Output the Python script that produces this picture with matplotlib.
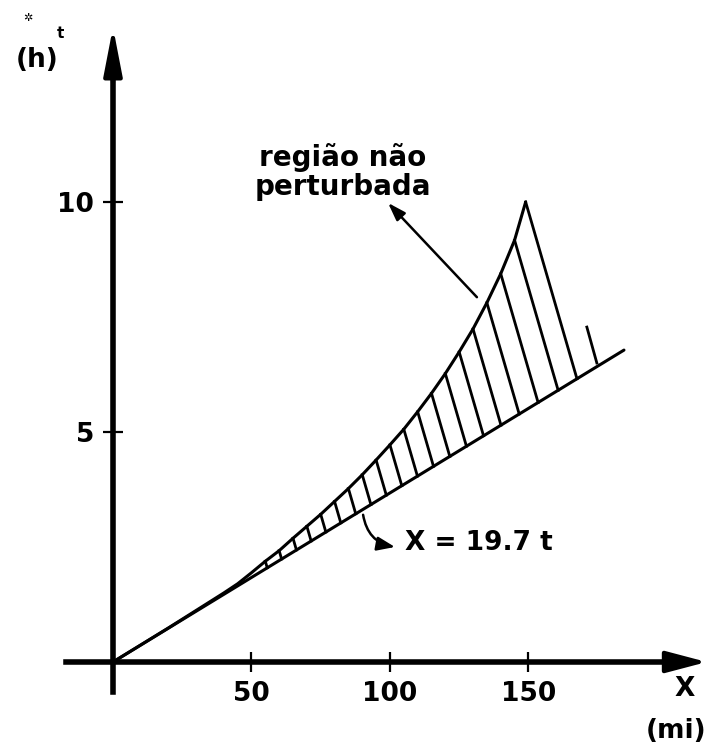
import numpy as np
import matplotlib.pyplot as plt

# upper boundary of the disturbed region (distance in mi, time in h)
x_upper = [0, 20, 40, 45, 50, 55, 60, 65, 70, 75, 80, 85, 90, 95, 100,
           105, 110, 115, 120, 125, 130, 135, 140, 145, 149]
t_upper = [0, 0.74, 1.50, 1.70, 1.94, 2.19, 2.42, 2.69, 2.95, 3.21, 3.49,
           3.77, 4.07, 4.39, 4.72, 5.06, 5.44, 5.84, 6.27, 6.74, 7.24,
           7.81, 8.44, 9.17, 10.0]

# wave front X = 19.7 t as drawn
x_lower = [0, 184.5]
t_lower = [0, 6.78]

# stray hatch past the closing edge
x_extra = [171.1, 174.7]
t_extra = [7.28, 6.50]

x_ticks = [50, 100, 150]
x_ticklabels = ['50', '100', '150']
t_ticks = [5, 10]
t_ticklabels = ['5', '10']

# hatch lines lean to the right: mi gained per hour dropped
lean = 4.82
hatch_from = 55

fig = plt.figure(figsize=(7.09, 7.5), dpi=100)
ax = fig.add_axes([0, 0, 1, 1])
ax.set_xlim(-40.8, 215.2)
ax.set_ylim(-1.913, 14.39)

for side in ['top', 'right']:
    ax.spines[side].set_visible(False)
ax.spines['left'].set_position(('data', 0))
ax.spines['bottom'].set_position(('data', 0))
ax.spines['left'].set_linewidth(4)
ax.spines['bottom'].set_linewidth(4)
ax.spines['left'].set_bounds(-0.65, 13.0)
ax.spines['bottom'].set_bounds(-17, 205)

ax.set_xticks(x_ticks)
ax.set_xticklabels(x_ticklabels)
ax.set_yticks(t_ticks)
ax.set_yticklabels(t_ticklabels)
ax.tick_params(direction='inout', length=15, width=1.6, labelsize=19, pad=6)
for lab in ax.get_xticklabels() + ax.get_yticklabels():
    lab.set_fontweight('bold')

# axis arrowheads
ax.annotate('', xy=(0, 13.8), xytext=(0, 12.6),
            arrowprops=dict(arrowstyle='-|>,head_length=1.45,head_width=0.28',
                            mutation_scale=20, color='black', lw=3,
                            shrinkA=0, shrinkB=0))
ax.annotate('', xy=(214.4, 0), xytext=(200, 0),
            arrowprops=dict(arrowstyle='-|>,head_length=1.25,head_width=0.33',
                            mutation_scale=20, color='black', lw=3,
                            shrinkA=0, shrinkB=0))

ax.plot(x_upper, t_upper, color='black', lw=2.2, solid_capstyle='round')
ax.plot(x_lower, t_lower, color='black', lw=2.2, solid_capstyle='round')

# hatching between the two boundaries
k = t_lower[1] / x_lower[1]
for xu, tu in zip(x_upper, t_upper):
    if xu < hatch_from:
        continue
    drop = (tu - k * xu) / (1 + lean * k)
    ax.plot([xu, xu + lean * drop], [tu, tu - drop], color='black', lw=2.0)
ax.plot(x_extra, t_extra, color='black', lw=2.0)

ax.text(83.0, 10.65, 'região não\nperturbada', ha='center', va='center',
        fontsize=20, fontweight='bold', linespacing=1.05)
ax.annotate('', xy=(99.3, 9.98), xytext=(131.4, 7.93),
            arrowprops=dict(arrowstyle='-|>,head_length=0.9,head_width=0.3',
                            mutation_scale=12, color='black', lw=1.8,
                            shrinkA=0, shrinkB=0))

ax.annotate('', xy=(101.8, 2.5), xytext=(90.3, 3.2),
            arrowprops=dict(arrowstyle='-|>,head_length=0.9,head_width=0.35',
                            mutation_scale=12, color='black', lw=1.8,
                            shrinkA=0, shrinkB=0,
                            connectionstyle='arc3,rad=0.35'))
ax.text(105.4, 2.59, 'X = 19.7 t', ha='left', va='center',
        fontsize=19, fontweight='bold')

ax.text(-27.4, 13.09, '(h)', ha='center', va='center', fontsize=19,
        fontweight='bold')
ax.text(-18.8, 13.67, 't', ha='center', va='center', fontsize=11,
        fontweight='bold')
ax.text(-30.7, 14.0, '✲', ha='center', va='center', fontsize=8)
ax.text(206.5, -0.59, 'X', ha='center', va='center', fontsize=19,
        fontweight='bold')
ax.text(203.2, -1.5, '(mi)', ha='center', va='center', fontsize=19,
        fontweight='bold')

fig.savefig('out.png', dpi=100)
